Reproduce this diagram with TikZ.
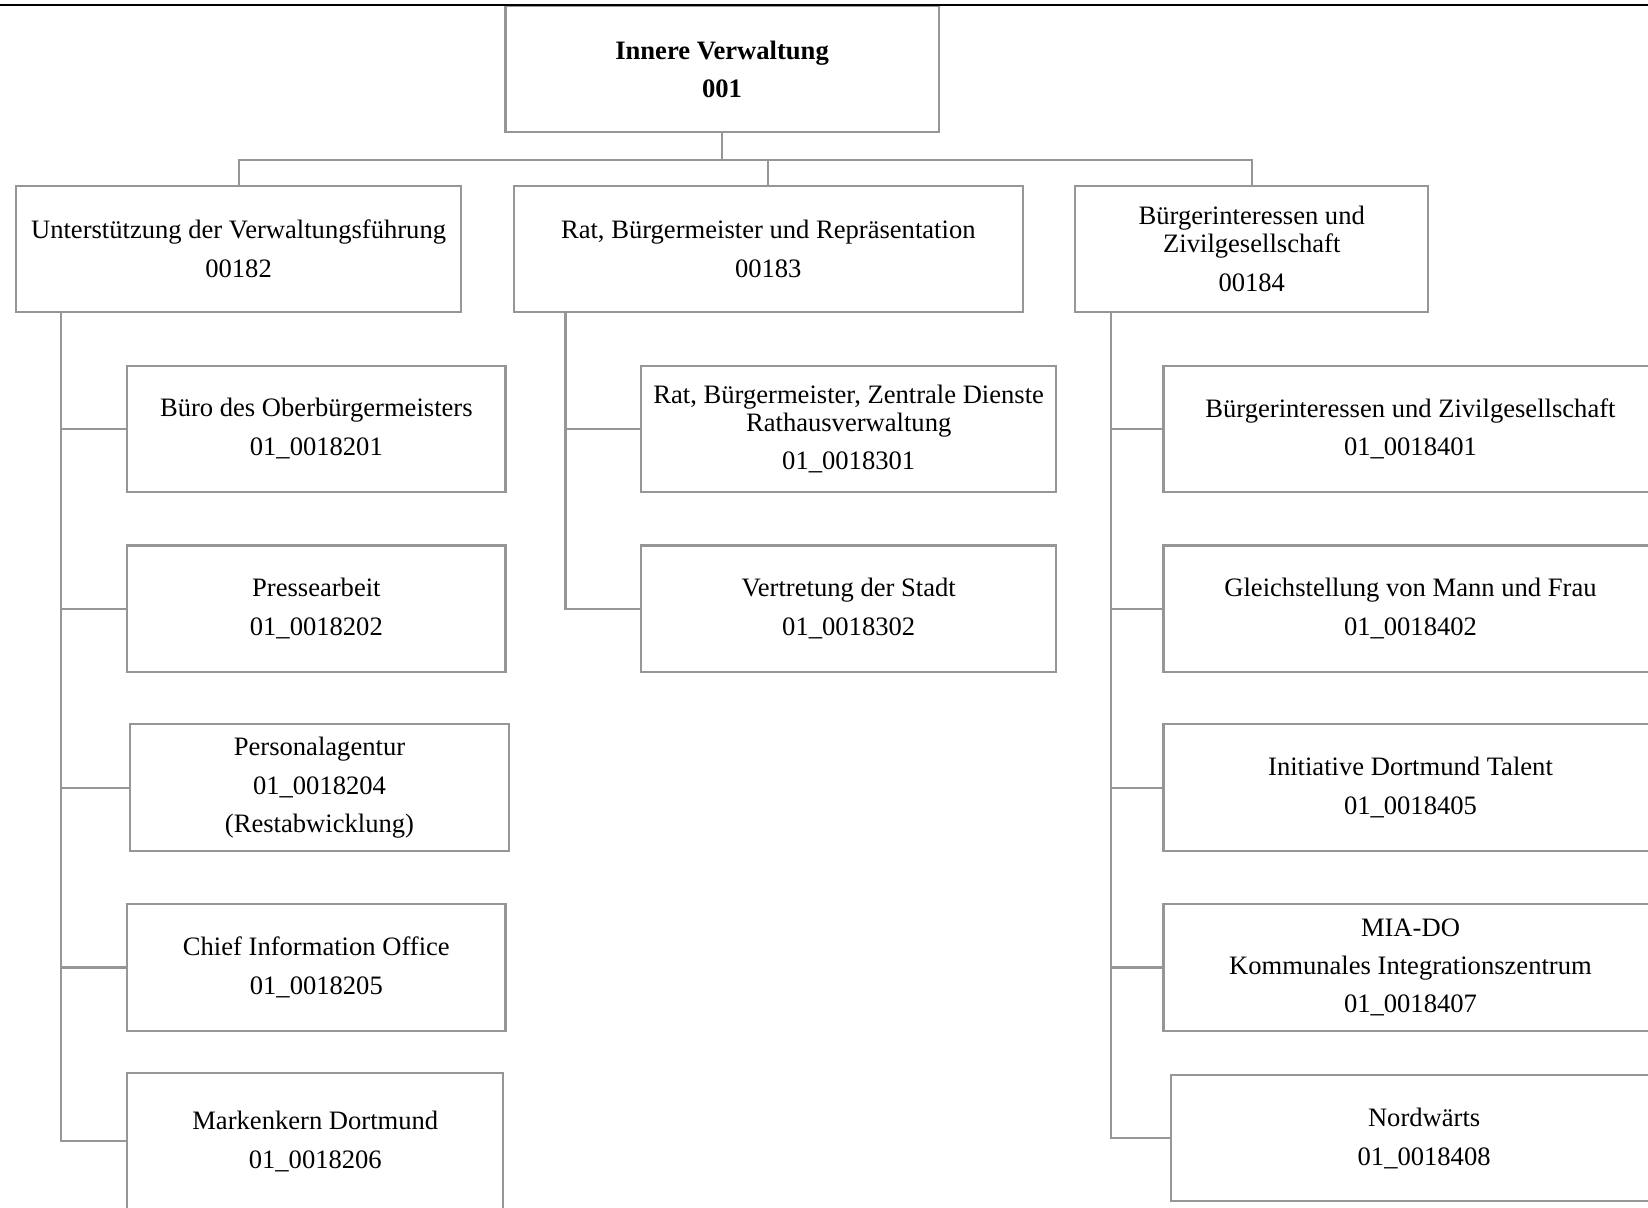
\documentclass[tikz,border=0pt]{standalone}
\usepackage{fontspec}
\setmainfont{Liberation Serif}
\definecolor{boxgray}{RGB}{150,150,150}
\tikzset{
  unit/.style={draw=boxgray,line width=2pt,fill=white,align=center,inner sep=0pt,
    minimum height=120pt,font=\fontsize{25.3}{27}\selectfont},
  link/.style={draw=boxgray,line width=2pt},
}
\begin{document}
\begin{tikzpicture}[x=1pt,y=-1pt]
  \useasboundingbox (0,0) rectangle (1568,1149);
  \clip (0,0) rectangle (1568,1149);
  % top level
  \node[unit,minimum width=412pt,font=\fontsize{25.3}{27}\selectfont\bfseries] (top) at (687,66)
    {Innere Verwaltung\\[10pt]001};
  \node[unit,minimum width=424pt] (a) at (227,237) {Unterstützung der Verwaltungsführung\\[10pt]00182};
  \node[unit,minimum width=484pt] (b) at (731,237) {Rat, Bürgermeister und Repräsentation\\[10pt]00183};
  \node[unit,minimum width=336pt] (c) at (1191,237) {Bürgerinteressen und\\Zivilgesellschaft\\[10pt]00184};
  % left column
  \node[unit,minimum width=360pt] (a1) at (301,408) {Büro des Oberbürgermeisters\\[10pt]01\_0018201};
  \node[unit,minimum width=360pt] (a2) at (301,579) {Pressearbeit\\[10pt]01\_0018202};
  \node[unit,minimum width=360pt,minimum height=121pt] (a3) at (304,749.5)
    {Personalagentur\\[10pt]01\_0018204\\[9pt](Restabwicklung)};
  \node[unit,minimum width=360pt,minimum height=121pt] (a4) at (301,920.5) {Chief Information Office\\[10pt]01\_0018205};
  \node[unit,minimum width=358pt,minimum height=130pt] (a5) at (300,1086) {Markenkern Dortmund\\[10pt]01\_0018206};
  % middle column
  \node[unit,minimum width=395pt] (b1) at (807.5,408)
    {Rat, Bürgermeister, Zentrale Dienste\\Rathausverwaltung\\[9pt]01\_0018301};
  \node[unit,minimum width=395pt] (b2) at (807.5,579) {Vertretung der Stadt\\[10pt]01\_0018302};
  % right column
  \node[unit,minimum width=470pt] (c1) at (1342,408) {Bürgerinteressen und Zivilgesellschaft\\[10pt]01\_0018401};
  \node[unit,minimum width=470pt] (c2) at (1342,579) {Gleichstellung von Mann und Frau\\[10pt]01\_0018402};
  \node[unit,minimum width=470pt,minimum height=121pt] (c3) at (1342,749.5) {Initiative Dortmund Talent\\[10pt]01\_0018405};
  \node[unit,minimum width=470pt,minimum height=121pt] (c4) at (1342,920.5)
    {MIA-DO\\[9pt]Kommunales Integrationszentrum\\[10pt]01\_0018407};
  \node[unit,minimum width=482pt] (c5) at (1355,1083) {Nordwärts\\[10pt]01\_0018408};
  % connectors
  \coordinate (bus) at (687,152);
  \draw[link] (top.south) -- (bus);
  \foreach \n in {a,b,c}
    \draw[link] (bus) -| (\n.north);
  \coordinate (sa) at (58,297);
  \coordinate (sb) at (538,297);
  \coordinate (sc) at (1057,297);
  \foreach \n in {a1,a2,a3,a4,a5}
    \draw[link] (sa) |- (\n.west);
  \foreach \n in {b1,b2}
    \draw[link] (sb) |- (\n.west);
  \foreach \n in {c1,c2,c3,c4,c5}
    \draw[link] (sc) |- (\n.west);
  \draw[line width=2pt] (0,4.5) -- (1568,4.5);
\end{tikzpicture}
\end{document}
